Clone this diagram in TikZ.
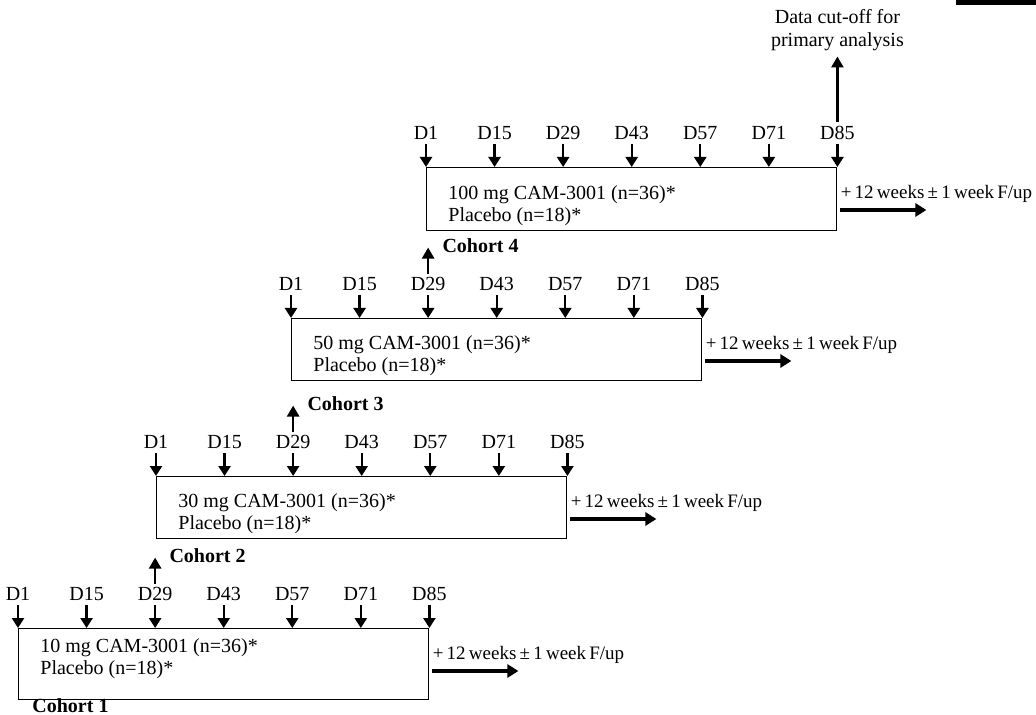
\documentclass[tikz,border=0pt]{standalone}
\usepackage{fontspec}
\setmainfont{Liberation Serif}
\usetikzlibrary{arrows.meta, calc, positioning}

\newcommand{\tightsp}{\spaceskip=0.17em plus 0.1em\relax}

\tikzset{
  cohortbox/.style={draw, line width=0.7pt, anchor=north west, minimum width=205pt, inner sep=0pt},
  armtext/.style={anchor=north west, align=left, inner sep=0pt},
  daylbl/.style={inner sep=0pt, outer sep=2pt},
  cohortlbl/.style={anchor=west, inner sep=0pt, font=\bfseries},
  futext/.style={anchor=west, inner sep=0pt, font=\fontsize{9.5}{11}\selectfont},
  tick/.style={-{Triangle[width=6pt,length=5pt]}, line width=1.2pt},
  uparrow/.style={-{Triangle[width=6pt,length=5.5pt]}, line width=1.3pt},
  fuarrow/.style={-{Triangle[width=6.5pt,length=5.5pt]}, line width=1.7pt}
}

\begin{document}
\begin{tikzpicture}[x=0.5pt, y=-0.5pt, font=\fontsize{10}{11}\selectfont]
  \useasboundingbox (0,0) rectangle (1036,715);
  \fill (956,0) rectangle (1036,5);
  % Cohort boxes with visit days
  \foreach \c/\L/\T/\H/\mg/\ty in {1/18/628/35.5pt/10/5pt, 2/156/476/31pt/30/8.5pt,
      3/291/318/31pt/50/8.5pt, 4/426/167/31.5pt/100/9pt} {
    \node[cohortbox, minimum height=\H] (box\c) at (\L,\T) {};
    \node[armtext] (arm\c) at ([xshift=11pt, yshift=-\ty]box\c.north west)
      {\mg{} mg CAM-3001 (n=36)*\\Placebo (n=18)*};
    \foreach \d [count=\i from 0] in {1,15,29,43,57,71,85} {
      \coordinate (t\c-\i) at ($(box\c.north west)!\i/6!(box\c.north east)$);
      \node[daylbl, above=11.5pt of t\c-\i] (d\c-\i) {D\d};
      \draw[tick] (d\c-\i.south) -- (t\c-\i);
    }
    % Follow-up
    \node[futext] (fu\c) at ([xshift=1.5pt, yshift=-13.5pt]box\c.north east)
      {\tightsp + 12 weeks ± 1 week F/up};
    \coordinate (fa\c) at ([xshift=1.5pt, yshift=-21.5pt]box\c.north east);
    \coordinate (fb\c) at ([xshift=43pt]fa\c);
    \draw[fuarrow] (fa\c) -- (fb\c);
  }
  % Escalation to next cohort
  \node[cohortlbl] (coh1) at ([xshift=7pt, yshift=-2.5pt]box1.south west) {Cohort 1};
  \foreach \c/\p in {2/1, 3/2, 4/3} {
    \coordinate (up\c) at ([yshift=13pt]d\p-2.north);
    \draw[uparrow] (d\p-2.north) -- (up\c);
    \node[cohortlbl] (coh\c) at ([xshift=7pt, yshift=1pt]up\c) {Cohort \c};
  }
  % Data cut-off
  \coordinate (cut) at ([yshift=33pt]d4-6.north);
  \draw[uparrow] (d4-6.north) -- (cut);
  \node[inner sep=0pt, align=center, above=2.5pt of cut, font=\fontsize{10}{11.5}\selectfont] (cutoff)
    {Data cut-off for\\primary analysis};
\end{tikzpicture}
\end{document}
